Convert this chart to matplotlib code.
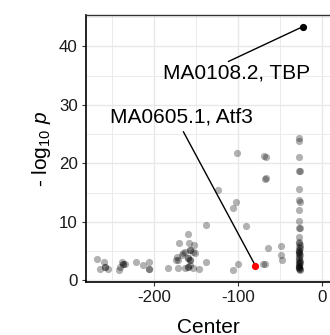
import matplotlib
matplotlib.use("Agg")
import matplotlib.pyplot as plt
from matplotlib.ticker import MultipleLocator

plt.rcParams['font.family'] = ['Liberation Sans', 'DejaVu Sans']
plt.rcParams['mathtext.fontset'] = 'custom'
plt.rcParams['mathtext.rm'] = 'Liberation Sans'
plt.rcParams['mathtext.it'] = 'Liberation Sans:italic'
plt.rcParams['axes.unicode_minus'] = False

# background motifs: Center position vs -log10 p
center = [-267.9, -264.7, -258.8, -258.0, -258.0, -254.0, -241.3, -240.0, -238.0, -236.2, -236.2, -234.2,
          -221.0, -213.0, -205.2, -205.6, -206.0,
          -183.3, -173.5, -171.5, -169.6, -172.6, -170.6, -166.7, -165.5, -162.7, -162.7,
          -158.9, -158.0, -156.8, -156.8, -158.8, -158.8, -156.8, -156.8, -158.8, -158.8, -156.8,
          -152.9, -151.7, -152.9, -150.6, -146.0,
          -137.7, -137.7, -123.0, -105.2, -105.2, -102.0, -101.2, -99.2, -90.0,
          -70.5, -67.0, -67.5, -66.5, -68.3, -66.3, -64.3, -48.5, -48.5, -47.5]
neglogp = [3.64, 1.93, 3.2, 2.2, 2.2, 1.93, 1.76, 2.3, 3.2, 2.8, 2.8, 2.73,
           3.2, 2.6, 3.2, 1.93, 1.88,
           2.15, 3.47, 2.05, 6.4, 4.0, 3.5, 4.3, 4.6, 4.9, 2.15,
           7.9, 6.3, 5.2, 5.2, 3.8, 3.8, 3.5, 3.5, 2.3, 2.3, 2.7,
           4.9, 6.0, 2.05, 4.6, 1.95,
           9.45, 3.2, 15.5, 1.76, 12.4, 13.4, 21.8, 2.73, 9.2,
           2.8, 2.73, 17.4, 17.5, 21.3, 21.1, 5.6, 5.9, 4.3, 3.5]

# motifs near position -27 (dense column)
col_center = [-26.8, -26.6, -26.7, -26.2, -26.5, -26.8, -26.6, -26.4, -26.7, -26.6, -26.2, -26.5, -26.7,
              -26.5, -26.8, -26.4, -26.6, -26.3, -26.7, -26.5, -26.6, -26.4, -26.8, -26.5, -26.6, -26.3,
              -26.7, -26.5, -26.6, -26.2, -26.7, -26.5, -26.6, -26.4, -26.8, -26.5, -26.6, -26.4, -26.7]
col_neglogp = [24.3, 23.8, 21.1, 18.7, 18.7, 15.6, 13.7, 13.3, 12.0, 10.1, 8.9, 8.9, 7.45,
               6.6, 6.3, 6.0, 5.7, 5.5, 5.2, 4.9, 4.6, 4.3, 4.0, 3.5, 3.2, 2.9,
               2.6, 2.3, 2.05, 1.8, 5.0, 4.5, 3.8, 3.3, 3.0, 2.5, 2.2, 2.0, 1.9]

# highlighted motifs
hl_names = ["MA0108.2, TBP", "MA0605.1, Atf3"]
hl_center = [-22.6, -79.0]
hl_neglogp = [43.35, 2.5]
hl_colors = ["black", "red"]

x_ticks = [-200, -100, 0]
y_ticks = [0, 10, 20, 30, 40]

fig = plt.figure(figsize=(3.30, 3.35), dpi=100)
ax = fig.add_axes([86/330, 53.3/335, 1 - 86/330, (281.7 - 15)/335])

ax.scatter(center + col_center, neglogp + col_neglogp, s=27, color='black', alpha=0.3,
           linewidths=0, zorder=3)

# label layout (text centre, segment start)
lab_pos = [(-102.0, 35.4), (-166.9, 27.9)]
seg_start = [(-111.2, 37.4), (-164.8, 25.4)]
for name, cx, cy, col, lp, ss in zip(hl_names, hl_center, hl_neglogp, hl_colors, lab_pos, seg_start):
    ax.annotate('', xy=(cx, cy), xytext=ss,
                arrowprops=dict(arrowstyle='-', color='black', lw=1.0, shrinkA=0, shrinkB=0), zorder=4)
    ax.scatter([cx], [cy], s=27, color=col, linewidths=0, zorder=5)
    ax.text(lp[0], lp[1], name, ha='center', va='center', fontsize=15, color='black', zorder=6)

ax.set_xlim(-280.8, 9.9)
ax.set_ylim(-0.24, 45.35)
ax.set_xticks(x_ticks)
ax.set_yticks(y_ticks)
ax.xaxis.set_minor_locator(MultipleLocator(50))
ax.yaxis.set_minor_locator(MultipleLocator(5))
ax.grid(True, which='major', color='#e8e8e8', lw=1.0, zorder=0)
ax.grid(True, which='minor', color='#ebebeb', lw=0.7, zorder=0)
ax.set_axisbelow(True)

for s in ['left', 'bottom']:
    ax.spines[s].set_color('black')
    ax.spines[s].set_linewidth(1.2)
ax.spines['top'].set_color('#333333')
ax.spines['top'].set_linewidth(1.0)
ax.spines['right'].set_visible(False)

ax.tick_params(axis='both', which='major', labelsize=12.2, length=3, width=0.8,
               color='#333333', labelcolor='#1a1a1a', pad=3)
ax.tick_params(axis='both', which='minor', length=0)

ax.set_xlabel('Center', fontsize=15, labelpad=9)
ax.set_ylabel(r'- $\mathregular{log_{10}}$ $p$', fontsize=15, labelpad=4)

fig.savefig('out.png', dpi=100)
